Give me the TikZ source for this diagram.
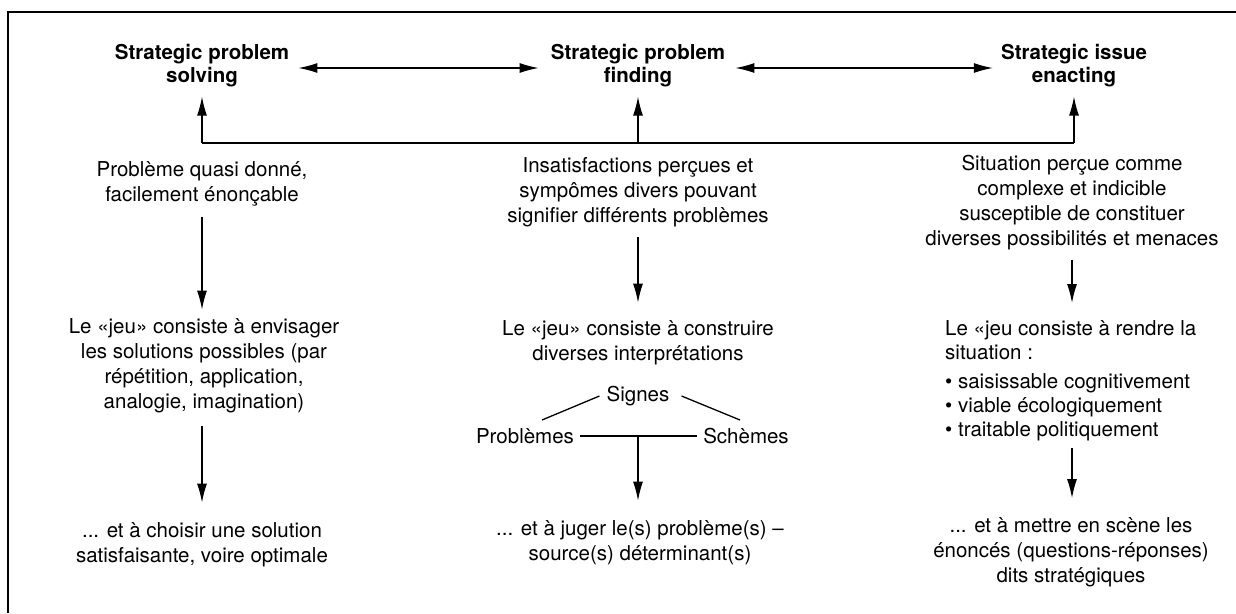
\documentclass[tikz,border=0pt]{standalone}
\usepackage{fontspec}
\setmainfont{TeX Gyre Heros}
\usetikzlibrary{arrows.meta}

\begin{document}
\begin{tikzpicture}[x=1pt,y=-1pt,
  title/.style={font=\bfseries\fontsize{20.5}{23}\selectfont, align=center, inner sep=0pt},
  txt/.style={font=\fontsize{20.5}{25}\selectfont, align=center, inner sep=0pt},
  ln/.style={line width=1.3pt},
  arr/.style={ln, -{Latex[length=19pt,width=10pt]}},
  darr/.style={ln, {Latex[length=19pt,width=10pt]}-{Latex[length=19pt,width=10pt]}}]
\useasboundingbox (0,0) rectangle (1236,613);
%%% frame, only the top and left edges show
\draw[line width=2.5pt] (8,613) -- (8,12) -- (1236,12);

%%% the three strategic modes
\node[title] (solve) at (202,66) {Strategic problem\\solving};
\node[title] (find) at (638,66) {Strategic problem\\finding};
\node[title] (enact) at (1074,66) {Strategic issue\\enacting};
\draw[darr, shorten <=9pt, shorten >=12pt] ([yshift=-2pt]solve.east) -- ([yshift=-2pt]find.west);
\draw[darr, shorten <=10pt, shorten >=8pt] ([yshift=-2pt]find.east) -- ([yshift=-2pt]enact.west);

% feedback line under the titles
\coordinate (bus) at (637,143);
\draw[ln] (solve.south |- bus) -- (enact.south |- bus);
\draw[arr, shorten >=9pt] (solve.south |- bus) -- (solve.south);
\draw[arr, shorten >=9pt] (find.south |- bus) -- (find.south);
\draw[arr, shorten >=9pt] (enact.south |- bus) -- (enact.south);

%%% column 1 : solving
\node[txt] (given) at (202,184) {Problème quasi donné,\\facilement énonçable};
\node[txt] (envis) at (204,366) {Le «jeu» consiste à envisager\\les solutions possibles (par\\répétition, application,\\analogie, imagination)};
\node[txt] (choose) at (202,545) {... et à choisir une solution\\satisfaisante, voire optimale};
\draw[arr, shorten <=10pt, shorten >=9pt] (given.south) -- (given.south |- envis.north);
\draw[arr, shorten <=13pt, shorten >=20pt] (given.south |- envis.south) -- (given.south |- choose.north);

%%% column 2 : finding
\node[txt] (unease) at (638,192) {Insatisfactions perçues et\\sympômes divers pouvant\\signifier différents problèmes};
\node[txt] (interp) at (638,343) {Le «jeu» consiste à construire\\diverses interprétations};
\node[txt] (signs) at (638,396) {Signes};
\node[txt] (probs) at (525,436) {Problèmes};
\node[txt] (schem) at (746,436) {Schèmes};
\node[txt] (judge) at (640,543) {... et à juger le(s) problème(s) –\\source(s) déterminant(s)};
\draw[arr, shorten <=10pt, shorten >=18pt] (unease.south) -- (unease.south |- interp.north);
\draw[ln] ([xshift=17pt,yshift=16pt]probs.center) -- ([xshift=-7pt]signs.west);
\draw[ln] ([xshift=12pt]signs.east) -- ([xshift=-6pt,yshift=16pt]schem.center);
\draw[ln, shorten <=6pt, shorten >=6pt] (probs.east) -- (schem.west);
\coordinate (fork) at (signs.south |- probs.east);
\draw[arr, shorten >=20pt] (fork) -- (fork |- judge.north);

%%% column 3 : enacting
\node[txt] (situ) at (1072,203) {Situation perçue comme\\complexe et indicible\\susceptible de constituer\\diverses possibilités et menaces};
\node[txt, font=\fontsize{20.5}{24}\selectfont, align=left, anchor=north west] (render) at (945,320)
  {Le «jeu consiste à rendre la\\situation :\\[5pt]• saisissable cognitivement\\• viable écologiquement\\• traitable politiquement};
\node[txt] (scene) at (1071,552) {... et à mettre en scène les\\énoncés (questions-réponses)\\dits stratégiques};
\draw[arr, shorten <=9pt, shorten >=17pt] (situ.south) -- (situ.south |- render.north);
\draw[arr, shorten <=7pt, shorten >=19pt] (situ.south |- render.south) -- (situ.south |- scene.north);
\end{tikzpicture}
\end{document}
